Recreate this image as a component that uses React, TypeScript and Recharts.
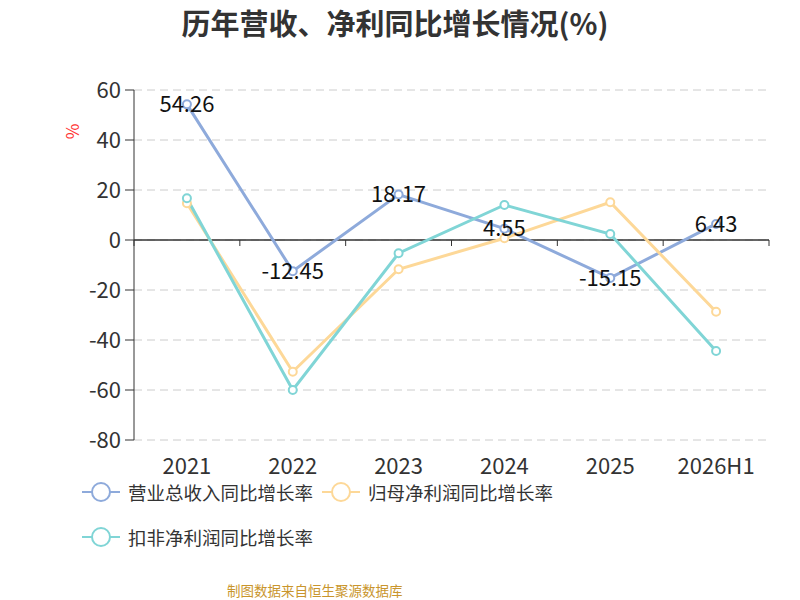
import React from "react";
import {
  LineChart,
  Line,
  XAxis,
  YAxis,
  CartesianGrid,
  ReferenceLine,
  LabelList,
} from "recharts";

const categories = ["2021", "2022", "2023", "2024", "2025", "2026H1"];
const revenueGrowth = [54.26, -12.45, 18.17, 4.55, -15.15, 6.43];
const parentProfitGrowth = [14.7, -52.7, -11.7, 0.7, 15.1, -28.7];
const deductedProfitGrowth = [16.7, -60, -5.3, 14, 2.4, -44.4];
const yTicks = [60, 40, 20, 0, -20, -40, -60, -80];

const series = [
  { key: "revenue", name: "营业总收入同比增长率", color: "#8eaadb", values: revenueGrowth, labels: true },
  { key: "parent", name: "归母净利润同比增长率", color: "#fdd898", values: parentProfitGrowth, labels: false },
  { key: "deducted", name: "扣非净利润同比增长率", color: "#80d5d6", values: deductedProfitGrowth, labels: false },
];

const data = categories.map((name, i) => {
  const row: Record<string, string | number> = { name };
  series.forEach((s) => (row[s.key] = s.values[i]));
  return row;
});

const W = 800;
const H = 600;
const margin = { top: 90, right: 31, bottom: 120, left: 84 };
const yAxisWidth = 50;
const xAxisHeight = 40;
const plotLeft = margin.left + yAxisWidth;
const plotWidth = W - plotLeft - margin.right;
const plotHeight = H - margin.top - margin.bottom - xAxisHeight;
const yMin = -80;
const yMax = 60;
const zeroY = margin.top + (plotHeight * yMax) / (yMax - yMin);
const band = plotWidth / categories.length;

const font = "'Noto Sans CJK SC', 'Microsoft YaHei', sans-serif";

const XTick = (props: any) => {
  const { x, y, payload, index } = props;
  return (
    <g>
      <line x1={x - band / 2} x2={x - band / 2} y1={zeroY} y2={zeroY + 6} stroke="#333" />
      {index === categories.length - 1 && (
        <line x1={x + band / 2} x2={x + band / 2} y1={zeroY} y2={zeroY + 6} stroke="#333" />
      )}
      <text x={x} y={y + 26} textAnchor="middle" fontSize={22} fill="#333" fontFamily={font}>
        {payload.value}
      </text>
    </g>
  );
};

const LegendIcon = ({ color }: { color: string }) => (
  <svg width={38} height={22} style={{ marginRight: 8 }}>
    <line x1={0} x2={38} y1={11} y2={11} stroke={color} strokeWidth={2} />
    <circle cx={19} cy={11} r={9} fill="#fff" stroke={color} strokeWidth={2} />
  </svg>
);

export default function App() {
  return (
    <div style={{ position: "absolute", left: 0, top: 0, width: W, height: H, background: "#fff", fontFamily: font }}>
      <div
        style={{
          position: "absolute",
          top: 4,
          left: -5,
          width: W,
          textAlign: "center",
          fontSize: 29,
          fontWeight: "bold",
          color: "#333",
          lineHeight: "36px",
        }}
      >
        历年营收、净利同比增长情况(%)
      </div>
      <LineChart width={W} height={H} data={data} margin={margin}>
        <CartesianGrid vertical={false} stroke="#ccc" strokeDasharray="8 5" />
        <XAxis
          dataKey="name"
          axisLine={false}
          tickLine={false}
          height={xAxisHeight}
          tick={<XTick />}
          interval={0}
          padding={{ left: band / 2, right: band / 2 }}
        />
        <YAxis
          domain={[yMin, yMax]}
          ticks={yTicks}
          interval={0}
          width={yAxisWidth}
          axisLine={{ stroke: "#333" }}
          tickLine={{ stroke: "#333" }}
          tickSize={9}
          tickMargin={4}
          tick={{ fontSize: 22, fill: "#333", fontFamily: font }}
        />
        <ReferenceLine y={0} stroke="#333" strokeWidth={1.5} />
        {series.map((s) => (
          <Line
            key={s.key}
            dataKey={s.key}
            name={s.name}
            type="linear"
            stroke={s.color}
            strokeWidth={3}
            dot={{ r: 4, fill: "#fff", stroke: s.color, strokeWidth: 2 }}
            activeDot={false}
            isAnimationActive={false}
          >
            {s.labels && (
              <LabelList
                dataKey={s.key}
                position="center"
                fontSize={22}
                fill="#111"
                fontFamily={font}
              />
            )}
          </Line>
        ))}
      </LineChart>
      <div
        style={{
          position: "absolute",
          left: 64,
          top: 119,
          color: "#ff3333",
          fontSize: 17,
          transform: "rotate(-90deg)",
        }}
      >
        %
      </div>
      <div
        style={{
          position: "absolute",
          left: 82,
          top: 478,
          width: 660,
          display: "flex",
          flexWrap: "wrap",
          rowGap: 17,
          fontSize: 18.5,
          color: "#333",
        }}
      >
        {series.map((s) => (
          <div key={s.key} style={{ display: "flex", alignItems: "center", width: s.key === "revenue" ? 240 : 380, height: 28 }}>
            <LegendIcon color={s.color} />
            <span>{s.name}</span>
          </div>
        ))}
      </div>
      <div
        style={{
          position: "absolute",
          left: 227,
          top: 580,
          fontSize: 13.5,
          color: "#c9952c",
        }}
      >
        制图数据来自恒生聚源数据库
      </div>
    </div>
  );
}
